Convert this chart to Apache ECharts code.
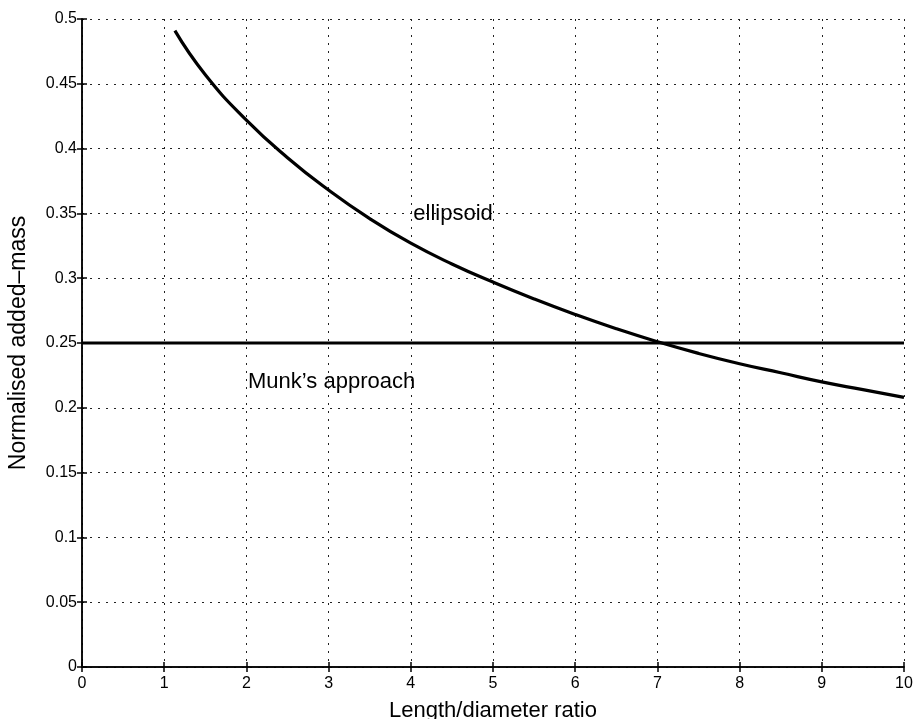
<!DOCTYPE html>
<html>
<head>
<meta charset="utf-8">
<script src="https://cdn.jsdelivr.net/npm/echarts@6/dist/echarts.min.js"></script>
<style>
  html, body { margin: 0; padding: 0; background: #fff; }
  #chart { width: 918px; height: 719px; }
</style>
</head>
<body>
<div id="chart"></div>
<script>
// Length/diameter ratio samples along the ellipsoid curve
const ratio = [1.13, 1.5, 2, 2.5, 3, 3.5, 4, 4.5, 5, 5.5, 6, 6.5, 7, 7.5, 8, 8.5, 9, 9.5, 10];
// Normalised added-mass of the ellipsoid at those ratios
const ellipsoidMass = [0.491, 0.457, 0.422, 0.393, 0.368, 0.346, 0.327, 0.311, 0.297, 0.284, 0.272, 0.261, 0.251, 0.242, 0.234, 0.227, 0.220, 0.214, 0.208];
// Munk's approach: constant value over the whole ratio range
const munkRange = [0, 10];
const munkValue = 0.25;
// Curve annotations: [text, ratio, added-mass]
const annotations = [
  ['ellipsoid', 4.03, 0.3495],
  ['Munk\u2019s approach', 2.02, 0.22]
];

const chart = echarts.init(document.getElementById('chart'), null, { renderer: 'canvas' });
const font = '"Liberation Sans", Arial, Helvetica, sans-serif';
const dotted = { type: [2, 6], color: '#222', width: 1 };

const baseX = {
  type: 'value', min: 0, max: 10, interval: 1,
  axisLine: { show: true, lineStyle: { color: '#000', width: 1.5 } },
  axisTick: { show: true, inside: true, length: 5, lineStyle: { color: '#000', width: 1.5 } },
  splitLine: { show: false }
};
const baseY = {
  type: 'value', min: 0, max: 0.5, interval: 0.05,
  axisLine: { show: true, lineStyle: { color: '#000', width: 1.5 } },
  axisTick: { show: true, inside: true, length: 5, lineStyle: { color: '#000', width: 1.5 } },
  splitLine: { show: false }
};

chart.setOption({
  animation: false,
  backgroundColor: '#fff',
  grid: { left: 82, right: 14, top: 19, bottom: 52, containLabel: false, outerBoundsMode: 'none' },
  xAxis: [
    Object.assign({}, baseX, {
      position: 'bottom',
      name: 'Length/diameter ratio', nameLocation: 'middle', nameGap: 33,
      nameTextStyle: { fontFamily: font, fontSize: 22, color: '#000' },
      axisLabel: { show: true, margin: 9, fontFamily: font, fontSize: 16, color: '#000' },
      splitLine: { show: true, lineStyle: dotted }
    }),
    Object.assign({}, baseX, { position: 'top', axisLabel: { show: false } })
  ],
  yAxis: [
    Object.assign({}, baseY, {
      position: 'left',
      name: 'Normalised added\u2013mass', nameLocation: 'middle', nameGap: 52,
      nameTextStyle: { fontFamily: font, fontSize: 23, color: '#000' },
      axisLabel: {
        show: true, margin: 5, fontFamily: font, fontSize: 16, color: '#000',
        formatter: v => String(parseFloat(v.toFixed(2)))
      },
      splitLine: { show: true, lineStyle: dotted }
    }),
    Object.assign({}, baseY, { position: 'right', axisLabel: { show: false } })
  ],
  series: [
    {
      type: 'line', xAxisIndex: 0, yAxisIndex: 0,
      data: ratio.map((r, i) => [r, ellipsoidMass[i]]),
      smooth: true, showSymbol: false, symbol: 'none',
      lineStyle: { color: '#000', width: 3.2 },
      z: 5
    },
    {
      type: 'line', xAxisIndex: 0, yAxisIndex: 0,
      data: munkRange.map(r => [r, munkValue]),
      showSymbol: false, symbol: 'none',
      lineStyle: { color: '#000', width: 3.2 },
      z: 5
    },
    {
      type: 'scatter', xAxisIndex: 0, yAxisIndex: 0,
      data: annotations.map(a => ({ value: [a[1], a[2]], name: a[0] })),
      symbol: 'circle', symbolSize: 0, silent: true,
      itemStyle: { opacity: 1, color: '#000' },
      label: {
        show: true, position: 'right', distance: 0, opacity: 1,
        formatter: p => p.name,
        fontFamily: font, fontSize: 22, color: '#000'
      },
      z: 6
    }
  ]
});
</script>
</body>
</html>
